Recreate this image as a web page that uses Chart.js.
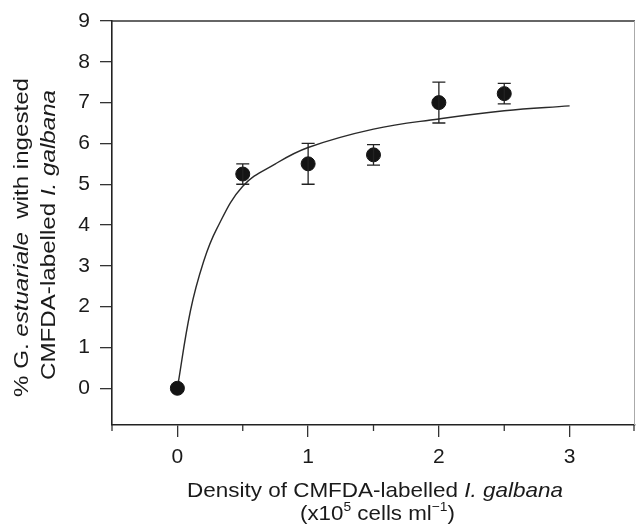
<!DOCTYPE html>
<html>
<head>
<meta charset="utf-8">
<script src="https://cdn.jsdelivr.net/npm/chart.js@4.4.1/dist/chart.umd.min.js"></script>
<style>
  html, body { margin: 0; padding: 0; background: #fff; }
  #wrap { width: 636px; height: 526px; }
</style>
</head>
<body>
<div id="wrap"><canvas id="chart" width="636" height="526"></canvas></div>
<script>
// Measured points (density x10^5 cells/ml, % with ingested cells, error)
const densities = [0, 0.5, 1, 1.5, 2, 2.5];
const percentIngested = [0, 5.25, 5.5, 5.72, 7.0, 7.22];
const errors = [0, 0.25, 0.5, 0.25, 0.5, 0.25];

// Fitted curve
const curveX = [0, 0.1, 0.2, 0.3, 0.5, 0.75, 1, 1.5, 2, 2.5, 3];
const curveY = [0, 1.9, 3.1, 3.9, 4.95, 5.5, 5.9, 6.35, 6.6, 6.8, 6.92];

const xTicks = [0, 1, 2, 3];
const xMinorTicks = [-0.5, 0.5, 1.5, 2.5, 3.5];
const yTicks = [0, 1, 2, 3, 4, 5, 6, 7, 8, 9];

const FONT = "'Liberation Sans', Arial, Helvetica, sans-serif";
const INK = '#1a1a1a';

// scatter whose marker size does not push the plot area inwards
class DotsController extends Chart.ScatterController {
    getMaxOverflow() { return false; }
}
DotsController.id = 'dots';
DotsController.defaults = Chart.ScatterController.defaults;
Chart.register(DotsController);

// draw a list of text runs stretched to a given width
function drawRuns(ctx, runs, x, y, width, size) {
    const fontFor = r => `${r.italic ? 'italic ' : ''}${r.sup ? Math.round(size * 0.62) : size}px ${FONT}`;
    let natural = 0;
    runs.forEach(r => { ctx.font = fontFor(r); natural += ctx.measureText(r.text).width; });
    const k = width / natural;
    ctx.save();
    ctx.translate(x, y);
    ctx.scale(k, 1);
    let cx = 0;
    runs.forEach(r => {
        ctx.font = fontFor(r);
        ctx.fillText(r.text, cx, r.sup ? -size * 0.42 : 0);
        cx += ctx.measureText(r.text).width;
    });
    ctx.restore();
}

const extrasPlugin = {
    id: 'extras',
    afterDatasetsDraw(chart) {
        const ctx = chart.ctx;
        const xs = chart.scales.x, ys = chart.scales.y;
        // error bars
        ctx.save();
        ctx.strokeStyle = '#222';
        ctx.lineWidth = 1.3;
        densities.forEach((d, i) => {
            if (!errors[i]) return;
            const px = xs.getPixelForValue(d);
            const top = ys.getPixelForValue(percentIngested[i] + errors[i]);
            const bot = ys.getPixelForValue(percentIngested[i] - errors[i]);
            ctx.beginPath();
            ctx.moveTo(px, top); ctx.lineTo(px, bot);
            ctx.moveTo(px - 6.5, top); ctx.lineTo(px + 6.5, top);
            ctx.moveTo(px - 6.5, bot); ctx.lineTo(px + 6.5, bot);
            ctx.stroke();
        });
        ctx.restore();
    },
    afterDraw(chart) {
        const ctx = chart.ctx;
        const a = chart.chartArea;
        const xs = chart.scales.x;
        ctx.save();
        // frame top and right
        ctx.strokeStyle = '#333';
        ctx.lineWidth = 1.5;
        ctx.beginPath();
        ctx.moveTo(a.left, a.top); ctx.lineTo(a.right, a.top);
        ctx.stroke();
        ctx.strokeStyle = '#aaa';
        ctx.lineWidth = 1;
        ctx.beginPath();
        ctx.moveTo(a.right - 0.5, a.top); ctx.lineTo(a.right - 0.5, a.bottom);
        ctx.stroke();
        // minor x ticks
        ctx.strokeStyle = '#333';
        ctx.lineWidth = 1.3;
        xMinorTicks.forEach(v => {
            const px = Math.min(xs.getPixelForValue(v), a.right - 1);
            ctx.beginPath();
            ctx.moveTo(px, a.bottom); ctx.lineTo(px, a.bottom + 6);
            ctx.stroke();
        });

        ctx.fillStyle = INK;
        ctx.textBaseline = 'alphabetic';
        // x title
        drawRuns(ctx, [{ text: 'Density of CMFDA-labelled ' }, { text: 'I. galbana', italic: true }],
            187, 497, 376, 21);
        drawRuns(ctx, [{ text: '(x10' }, { text: '5', sup: true }, { text: ' cells ml' },
            { text: '\u22121', sup: true }, { text: ')' }], 300, 520, 155, 21);
        // y title (rotated)
        ctx.save();
        ctx.translate(28, 397);
        ctx.rotate(-Math.PI / 2);
        drawRuns(ctx, [{ text: '% G. ' }, { text: 'estuariale', italic: true }, { text: '  with ingested' }],
            0, 0, 319, 20);
        ctx.restore();
        ctx.save();
        ctx.translate(55, 380);
        ctx.rotate(-Math.PI / 2);
        drawRuns(ctx, [{ text: 'CMFDA-labelled ' }, { text: 'I. galbana', italic: true }],
            0, 0, 290, 20);
        ctx.restore();
        ctx.restore();
    }
};

const ctx = document.getElementById('chart');
new Chart(ctx, {
    type: 'scatter',
    data: {
        datasets: [{
            type: 'line',
            data: curveX.map((x, i) => ({ x: x, y: curveY[i] })),
            borderColor: '#2a2a2a',
            borderWidth: 1.4,
            pointRadius: 0,
            tension: 0.4,
            fill: false,
            order: 2
        }, {
            type: 'dots',
            data: densities.map((x, i) => ({ x: x, y: percentIngested[i] })),
            backgroundColor: '#141414',
            borderColor: '#141414',
            borderWidth: 1,
            pointRadius: 7,
            order: 1
        }]
    },
    options: {
        responsive: true,
        maintainAspectRatio: false,
        animation: false,
        layout: { padding: { top: 21, right: 1, left: 0, bottom: 0 } },
        plugins: { legend: { display: false }, tooltip: { enabled: false } },
        scales: {
            x: {
                type: 'linear',
                min: -0.5,
                max: 3.5,
                afterBuildTicks: s => { s.ticks = xTicks.map(v => ({ value: v })); },
                afterFit: s => { s.height = 101; s.paddingLeft = 0; s.paddingRight = 0; },
                grid: { drawOnChartArea: false, drawTicks: true, tickLength: 12, color: '#333', lineWidth: 1.3 },
                border: { display: true, color: '#222', width: 1.6 },
                ticks: { color: INK, font: { family: FONT, size: 21 }, padding: 8 }
            },
            y: {
                type: 'linear',
                min: -0.9,
                max: 9,
                afterBuildTicks: s => { s.ticks = yTicks.map(v => ({ value: v })); },
                afterFit: s => { s.width = 112; s.paddingTop = 0; s.paddingBottom = 0; },
                grid: { drawOnChartArea: false, drawTicks: true, tickLength: 12, color: '#333', lineWidth: 1.3 },
                border: { display: true, color: '#222', width: 1.6 },
                ticks: { color: INK, font: { family: FONT, size: 21 }, padding: 10 }
            }
        }
    },
    plugins: [extrasPlugin]
});
</script>
</body>
</html>
